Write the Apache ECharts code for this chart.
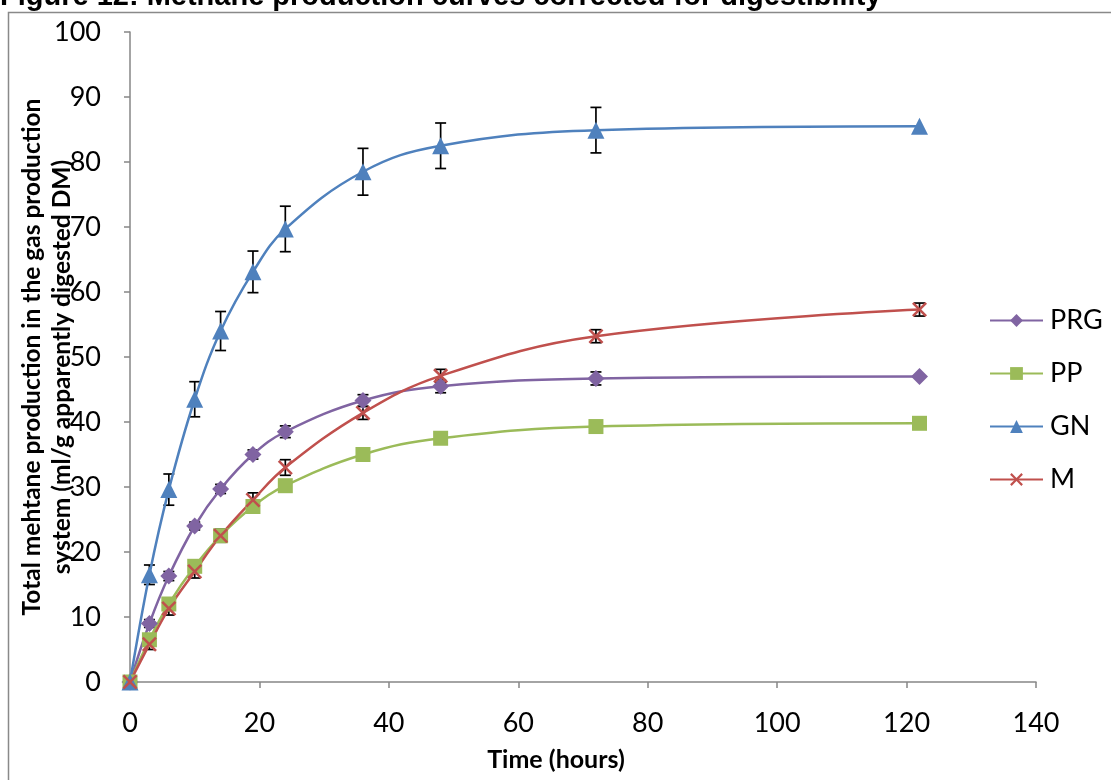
<!DOCTYPE html>
<html>
<head>
<meta charset="utf-8">
<script src="https://cdn.jsdelivr.net/npm/echarts@6/dist/echarts.min.js"></script>
<style>html,body{margin:0;padding:0;background:#fff;}#c{width:1111px;height:780px;}</style>
</head>
<body>
<div id="c"></div>
<script>
// Data
const hours = [0, 3, 6, 10, 14, 19, 24, 36, 48, 72, 122];
const seriesNames = ['PRG', 'PP', 'GN', 'M'];
const prg = [0, 9.0, 16.3, 24.0, 29.7, 35.0, 38.5, 43.3, 45.5, 46.7, 47.0];
const pp  = [0, 6.5, 12.0, 17.8, 22.5, 27.0, 30.2, 35.0, 37.5, 39.3, 39.8];
const gn  = [0, 16.5, 29.6, 43.5, 54.0, 63.1, 69.7, 78.5, 82.5, 84.9, 85.5];
const m   = [0, 5.8, 11.3, 17.0, 22.5, 28.0, 33.0, 41.4, 47.1, 53.2, 57.3];
const prgErr = [0, 0.6, 0.7, 0.6, 0.7, 0.7, 0.9, 0.9, 1.0, 1.0, 0];
const ppErr  = [0, 0.7, 0.7, 0.7, 0.7, 0.8, 0.8, 0.7, 0.5, 0.5, 0];
const gnErr  = [0, 1.5, 2.4, 2.7, 3.0, 3.2, 3.5, 3.6, 3.5, 3.5, 0];
const mErr   = [0, 0.8, 1.0, 1.0, 1.0, 1.1, 1.2, 1.0, 1.0, 1.0, 1.0];
const xTicks = [0, 20, 40, 60, 80, 100, 120, 140];
const yTicks = [0, 10, 20, 30, 40, 50, 60, 70, 80, 90, 100];
const titleText = 'Figure 12: Methane production curves corrected for digestibility';
const yTitle1 = 'Total mehtane production in the gas production';
const yTitle2 = 'system (ml/g apparently digested DM)';
const xTitle = 'Time (hours)';

const colors = {PRG: '#8064A2', PP: '#9BBB59', GN: '#4F81BD', M: '#C0504D'};
const values = {PRG: prg, PP: pp, GN: gn, M: m};
const errors = {PRG: prgErr, PP: ppErr, GN: gnErr, M: mErr};
const symbols = {
  PRG: ['diamond', 17],
  PP: ['rect', 15],
  GN: ['triangle', 17],
  M: ['path://M0,1.2 L1.2,0 L5,3.8 L8.8,0 L10,1.2 L6.2,5 L10,8.8 L8.8,10 L5,6.2 L1.2,10 L0,8.8 L3.8,5 Z', 15]
};
const FONT = 'Lato';

const series = [];
seriesNames.forEach(name => {
  series.push({
    name: name,
    type: 'line',
    smooth: 0.4,
    data: hours.map((h, i) => [h, values[name][i]]),
    symbol: symbols[name][0],
    symbolSize: symbols[name][1],
    showAllSymbol: true,
    itemStyle: {color: colors[name]},
    lineStyle: {color: colors[name], width: 2.5},
    z: 3
  });
});
seriesNames.forEach(name => {
  const d = [];
  hours.forEach((h, i) => { if (errors[name][i] > 0) d.push([h, values[name][i], errors[name][i]]); });
  series.push({
    name: name + ' err',
    type: 'custom',
    data: d,
    z: 2,
    silent: true,
    renderItem: function (params, api) {
      const x = api.value(0), y = api.value(1), e = api.value(2);
      const t = api.coord([x, y + e]);
      const b = api.coord([x, y - e]);
      const w = 5.5;
      const st = {stroke: '#000', lineWidth: 1.7};
      return {
        type: 'group',
        children: [
          {type: 'line', shape: {x1: t[0], y1: t[1], x2: b[0], y2: b[1]}, style: st},
          {type: 'line', shape: {x1: t[0] - w, y1: t[1], x2: t[0] + w, y2: t[1]}, style: st},
          {type: 'line', shape: {x1: b[0] - w, y1: b[1], x2: b[0] + w, y2: b[1]}, style: st}
        ]
      };
    }
  });
});

const axisCommon = {
  axisLine: {show: true, lineStyle: {color: '#868686', width: 1.5}},
  axisTick: {show: true, inside: false, length: 6, lineStyle: {color: '#868686', width: 1.5}},
  splitLine: {show: false},
  axisLabel: {color: '#000', fontFamily: FONT, fontSize: 27}
};

const chart = echarts.init(document.getElementById('c'), null, {renderer: 'canvas'});
chart.setOption({
  animation: false,
  backgroundColor: '#fff',
  grid: {left: 130, top: 32, right: 75, bottom: 98, containLabel: false},
  xAxis: Object.assign({}, axisCommon, {
    type: 'value', min: xTicks[0], max: xTicks[xTicks.length - 1], interval: 20,
    axisLabel: Object.assign({}, axisCommon.axisLabel, {margin: 28})
  }),
  yAxis: Object.assign({}, axisCommon, {
    type: 'value', min: yTicks[0], max: yTicks[yTicks.length - 1], interval: 10,
    axisLabel: Object.assign({}, axisCommon.axisLabel, {margin: 29})
  }),
  legend: {
    data: seriesNames,
    orient: 'vertical',
    left: 984,
    top: 302,
    itemWidth: 53,
    itemHeight: 16,
    itemGap: 26,
    textStyle: {color: '#000', fontFamily: FONT, fontSize: 27, padding: [0, 0, 0, 2]}
  },
  graphic: [
    {type: 'rect', shape: {x: 8.5, y: 12.5, width: 1300, height: 1000}, style: {fill: 'none', stroke: '#898989', lineWidth: 1.5}, z: 0},
    {type: 'text', x: 0, y: -3, style: {text: titleText, font: 'bold 29px "Liberation Sans", Arial, sans-serif', fill: '#000', textAlign: 'left', textVerticalAlign: 'middle'}, z: 10},
    {type: 'text', x: 556, y: 760, style: {text: xTitle, font: 'bold 25px Lato, sans-serif', fill: '#000', textAlign: 'center', textVerticalAlign: 'middle'}, z: 10},
    {type: 'text', x: 32, y: 357, rotation: Math.PI / 2, style: {text: yTitle1, font: 'bold 24.5px Lato, sans-serif', fill: '#000', textAlign: 'center', textVerticalAlign: 'middle'}, z: 10},
    {type: 'text', x: 62, y: 367, rotation: Math.PI / 2, style: {text: yTitle2, font: 'bold 24.5px Lato, sans-serif', fill: '#000', textAlign: 'center', textVerticalAlign: 'middle'}, z: 10}
  ],
  series: series
});
</script>
</body>
</html>
